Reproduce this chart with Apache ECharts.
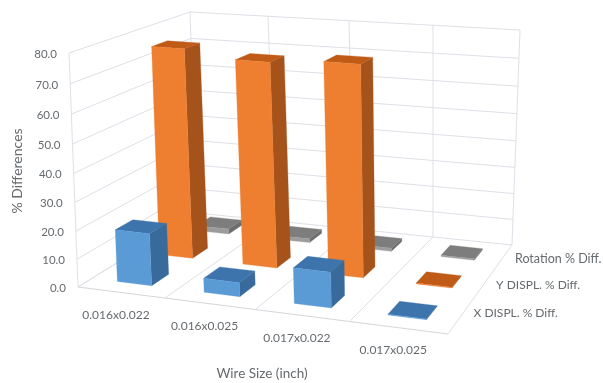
<!DOCTYPE html>
<html><head><meta charset="utf-8">
<style>html,body{margin:0;padding:0;background:#fff}#c{width:603px;height:383px}</style>
<script src="https://cdn.jsdelivr.net/npm/echarts@6/dist/echarts.min.js"></script>
</head><body><div id="c"></div>
<script>
const categories = ['0.016x0.022','0.016x0.025','0.017x0.022','0.017x0.025'];
const depthLabels = ['X DISPL. % Diff.','Y DISPL. % Diff.','Rotation % Diff.'];
const xDispl = [18.7, 5, 12.5, 0.3];
const yDispl = [76, 73.5, 75, 0.3];
const rotation = [2, 1.5, 1.2, 0.5];
const yTicks = [0,10,20,30,40,50,60,70,80];

// Frame of the projected plot box: floor and ceiling corners
const FLOOR = [[78,287],[448,334],[512,245],[197,213]];
const CEIL  = [[69,53],[457,84],[520,30],[190,12]];
const K = 0.942, DEPTH_SLOTS = 3, GAP = 0.4;
const FONT = 'Lato, "Open Sans", sans-serif', TXT = '#666a6e', LINE = '#dde0e6';
const PAL = [
 {front:'#5b9bd5', top:'#3c74ab', side:'#386a9c'},
 {front:'#ee7f30', top:'#bf5b17', side:'#a5521b'},
 {front:'#9c9c9c', top:'#7d7d7d', side:'#6e6e6e'}
];

function homography(q){
  const [[x0,y0],[x1,y1],[x2,y2],[x3,y3]] = q;
  const dx1=x1-x2, dx2=x3-x2, sx=x0-x1+x2-x3, dy1=y1-y2, dy2=y3-y2, sy=y0-y1+y2-y3;
  const det=dx1*dy2-dx2*dy1, g=(sx*dy2-dx2*sy)/det, h=(dx1*sy-sx*dy1)/det;
  const a=x1-x0+g*x1, b=x3-x0+h*x3, d=y1-y0+g*y1, e=y3-y0+h*y3;
  return (u,v)=>{const n=g*u+h*v+1; return [(a*u+b*v+x0)/n,(d*u+e*v+y0)/n];};
}
const H0=homography(FLOOR), H1=homography(CEIL);
function P(u0,v,w){
  const u=u0+(0.02+0.06*v)*u0*(1-u0);
  const t=K*w/(1+(K-1)*w), p=H0(u,v), q=H1(u,v);
  return [p[0]+(q[0]-p[0])*t, p[1]+(q[1]-p[1])*t];
}
const norm=(params,api,cat,val)=>{
  const c=params.coordSys, pt=api.coord([cat,val]);
  return {u:(pt[0]-c.x)/c.width, w:(c.y+c.height-pt[1])/c.height, bw:api.size([1,0])[0]/c.width};
};
const line=(a,b,color)=>({type:'line',shape:{x1:a[0],y1:a[1],x2:b[0],y2:b[1]},style:{stroke:color||LINE,lineWidth:1,fill:null}});
const text=(s,x,y,align,size)=>({type:'text',style:{text:s,x:x,y:y,align:align,verticalAlign:'middle',fill:TXT,fontFamily:FONT,fontSize:size||11.5}});
const poly=(pts,fill)=>({type:'polygon',shape:{points:pts},style:{fill:fill,stroke:fill,lineWidth:0.3}});

function barRender(slot){
  return (params,api)=>{
    const n=norm(params,api,api.value(0),api.value(1));
    const hu=n.bw*GAP/2, cv=(slot+0.5)/DEPTH_SLOTS, hv=GAP/DEPTH_SLOTS/2;
    const u0=n.u-hu,u1=n.u+hu,v0=cv-hv,v1=cv+hv,w=n.w,pal=PAL[slot];
    return {type:'group',children:[
      poly([P(u1,v0,0),P(u1,v1,0),P(u1,v1,w),P(u1,v0,w)],pal.side),
      poly([P(u0,v0,w),P(u1,v0,w),P(u1,v1,w),P(u0,v1,w)],pal.top),
      poly([P(u0,v0,0),P(u1,v0,0),P(u1,v0,w),P(u0,v0,w)],pal.front)
    ]};
  };
}
function tickRender(params,api){
  const n=norm(params,api,0,api.value(1)), w=n.w, a=P(0,0,w);
  return {type:'group',children:[
    line(a,P(0,1,w)), line(P(0,1,w),P(1,1,w)),
    text(api.value(1).toFixed(1),a[0]-12,a[1]+1,'right',11.5)
  ]};
}
function catRender(params,api){
  const i=api.value(0), n=norm(params,api,i,0), u=n.u+n.bw/2, c=P(n.u,0,0);
  const kids=[text(categories[i],c[0]-5,c[1]+22.5,'center',12)];
  kids.push(line(P(u,0,0),P(u,1,0)));
  kids.push(line(P(u,1,0),P(u,1,1)));
  if(i===0){ kids.push(line(P(0,0,0),P(1,0,0),'#d4d6da'),line(P(0,0,0),P(0,0,1)),line(P(0,1,0),P(0,1,1)),line(P(0,0,0),P(0,1,0))); }
  return {type:'group',children:kids};
}
function depthRender(params,api){
  const i=api.value(0), p=P(1,(i+0.5)/DEPTH_SLOTS,0);
  return text(depthLabels[i],p[0]+(i===2?12:13),p[1]+(i===0?-3:i===1?0:1),'left',i===2?12.5:12);
}
const zip=a=>a.map((v,i)=>[i,v]);
const custom=(name,render,data,z)=>({name,type:'custom',renderItem:render,data,z,silent:true,clip:false,
  encode:{x:0,y:1},animation:false});

const chart=echarts.init(document.getElementById('c'),null,{renderer:'canvas'});
chart.setOption({
  animation:false,backgroundColor:'#fff',tooltip:{show:false},
  grid:{left:0,right:0,top:0,bottom:0},
  xAxis:{type:'category',data:categories,show:false},
  yAxis:{type:'value',min:0,max:80,interval:10,show:false},
  graphic:[
    {type:'text',x:262,y:374,silent:true,style:{text:'Wire Size (inch)',align:'center',verticalAlign:'middle',fill:TXT,fontFamily:FONT,fontSize:13.5}},
    {type:'text',x:17,y:171,rotation:Math.PI/2,silent:true,style:{text:'% Differences',align:'center',verticalAlign:'middle',fill:TXT,fontFamily:FONT,fontSize:14}}
  ],
  series:[
    custom('ticks',tickRender,yTicks.map(t=>[0,t]),1),
    custom('cats',catRender,categories.map((c,i)=>[i,0]),2),
    custom('depth',depthRender,depthLabels.map((c,i)=>[i,0]),2),
    custom(depthLabels[2],barRender(2),zip(rotation),3),
    custom(depthLabels[1],barRender(1),zip(yDispl),4),
    custom(depthLabels[0],barRender(0),zip(xDispl),5)
  ]
});
</script></body></html>
